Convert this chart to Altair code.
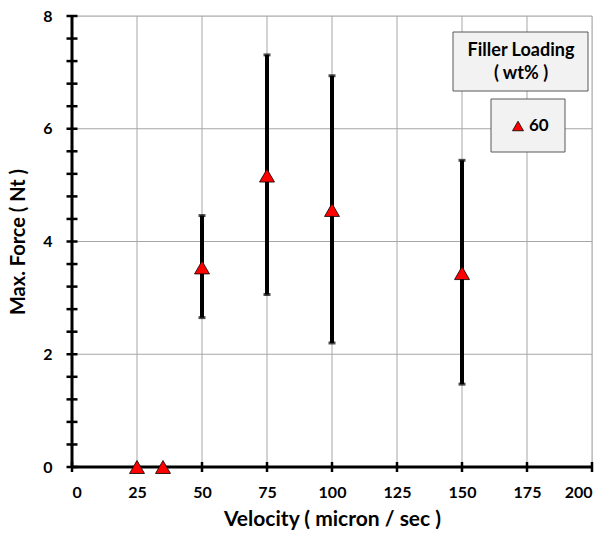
import altair as alt
import pandas as pd

# ---- data ----
velocity = [25, 35, 50, 75, 100, 150]
max_force = [0.0, 0.0, 3.54, 5.17, 4.56, 3.44]
force_low = [None, None, 2.65, 3.06, 2.20, 1.47]
force_high = [None, None, 4.46, 7.31, 6.94, 5.44]
filler_loading = ["60", "60", "60", "60", "60", "60"]

x_ticks = [0, 25, 50, 75, 100, 125, 150, 175, 200]
y_major = [0, 2, 4, 6, 8]
y_ticks = [0, 0.4, 0.8, 1.2, 1.6, 2, 2.4, 2.8, 3.2, 3.6, 4, 4.4, 4.8, 5.2, 5.6,
           6, 6.4, 6.8, 7.2, 7.6, 8]
legend_title = ["Filler Loading", "( wt% )"]
legend_label = ["60"]

FONT = "Lato"
W, H = 520, 451

df = pd.DataFrame({"v": velocity, "f": max_force, "lo": force_low,
                   "hi": force_high, "load": filler_loading})
df_err = df.dropna()

xs = alt.Scale(domain=[0, 200], nice=False, zero=False)
ys = alt.Scale(domain=[0, 8], nice=False, zero=False)

x_axis = alt.Axis(values=x_ticks, grid=False, domain=False, ticks=False,
                  format="d",
                  labelFont=FONT, labelFontSize=16, labelFontWeight="bold",
                  labelColor="black", labelPadding=17, labelOverlap=False,
                  title="Velocity ( micron / sec )", titleFont=FONT,
                  titleFontSize=21, titleFontWeight="bold", titleColor="black",
                  titlePadding=8)
y_axis = alt.Axis(values=y_major, grid=False, domain=False, ticks=False,
                  format="d",
                  labelFont=FONT, labelFontSize=16, labelFontWeight="bold",
                  labelColor="black", labelPadding=20, labelOverlap=False,
                  title="Max. Force ( Nt )", titleFont=FONT,
                  titleFontSize=20, titleFontWeight="bold", titleColor="black",
                  titlePadding=14)

one = pd.DataFrame({"a": [0]})

# gridlines
vgrid = alt.Chart(pd.DataFrame({"x": x_ticks})).mark_rule(
    color="#a6a6a6", strokeWidth=1).encode(
    x=alt.X("x:Q", scale=xs, axis=x_axis),
    y=alt.datum(0, scale=ys, axis=y_axis), y2=alt.datum(8))
hgrid = alt.Chart(pd.DataFrame({"y": y_major})).mark_rule(
    color="#a6a6a6", strokeWidth=1).encode(
    y=alt.Y("y:Q", scale=ys, axis=y_axis), x=alt.datum(0), x2=alt.datum(200))

# axis lines
xline = alt.Chart(one).mark_rule(color="black", strokeWidth=3).encode(
    y=alt.datum(0), x=alt.datum(0), x2=alt.datum(200))
yline = alt.Chart(one).mark_rule(color="black", strokeWidth=3).encode(
    x=alt.datum(0), y=alt.datum(0), y2=alt.datum(8))

# tick marks crossing the axes
xtick_marks = alt.Chart(pd.DataFrame({"x": x_ticks})).mark_rule(
    color="black", strokeWidth=2.5).encode(
    x="x:Q", y=alt.value(H - 5), y2=alt.value(H + 5))
ytick_marks = alt.Chart(pd.DataFrame({"y": y_ticks})).mark_rule(
    color="black", strokeWidth=2.5).encode(
    y="y:Q", x=alt.value(-5.5), x2=alt.value(5.5))

# error bars
err = alt.Chart(df_err).mark_rule(color="black", strokeWidth=4).encode(
    x="v:Q", y="lo:Q", y2="hi:Q")
cap_lo = alt.Chart(df_err).mark_tick(color="black", size=7, thickness=3,
                                     orient="horizontal").encode(x="v:Q", y="lo:Q")
cap_hi = alt.Chart(df_err).mark_tick(color="black", size=7, thickness=3,
                                     orient="horizontal").encode(x="v:Q", y="hi:Q")

pts = alt.Chart(df).mark_point(shape="triangle-up", size=225, filled=True,
                               fill="#ff0000", stroke="black", strokeWidth=0.8,
                               opacity=1).encode(x="v:Q", y="f:Q")

# legend (two boxes like the reference)
box_title = alt.Chart(one).mark_rect(
    fill="#f2f2f2", stroke="#595959", strokeWidth=1).encode(
    x=alt.value(381), x2=alt.value(516), y=alt.value(16), y2=alt.value(75))
box_item = alt.Chart(one).mark_rect(
    fill="#f2f2f2", stroke="#595959", strokeWidth=1).encode(
    x=alt.value(419), x2=alt.value(493), y=alt.value(83), y2=alt.value(136))
title_txt1 = alt.Chart(one).mark_text(
    font=FONT, fontSize=18, fontWeight="bold", color="black", align="center",
    baseline="middle", text=legend_title[0]).encode(x=alt.value(449), y=alt.value(35))
title_txt2 = alt.Chart(one).mark_text(
    font=FONT, fontSize=18, fontWeight="bold", color="black", align="center",
    baseline="middle", text=legend_title[1]).encode(x=alt.value(449), y=alt.value(58))
leg_sym = alt.Chart(pd.DataFrame({"l": legend_label})).mark_point(
    shape="triangle-up", size=121, filled=True, fill="#ff0000", stroke="black",
    strokeWidth=0.8, opacity=1).encode(x=alt.value(446), y=alt.value(110))
leg_txt = alt.Chart(pd.DataFrame({"l": legend_label})).mark_text(
    font=FONT, fontSize=17, fontWeight="bold", color="black", align="left",
    baseline="middle").encode(text="l:N", x=alt.value(457), y=alt.value(110))

chart = alt.layer(
    vgrid, hgrid, xline, yline, xtick_marks, ytick_marks, err, cap_lo, cap_hi,
    pts, box_title, box_item, title_txt1, title_txt2, leg_sym, leg_txt
).properties(
    width=W, height=H,
    autosize=alt.AutoSizeParams(type="none"),
    padding={"left": 72, "top": 16, "right": 18, "bottom": 73},
).configure_view(stroke=None).configure(background="white")

chart.save("out.html", embed_options={"renderer": "svg", "actions": False})
